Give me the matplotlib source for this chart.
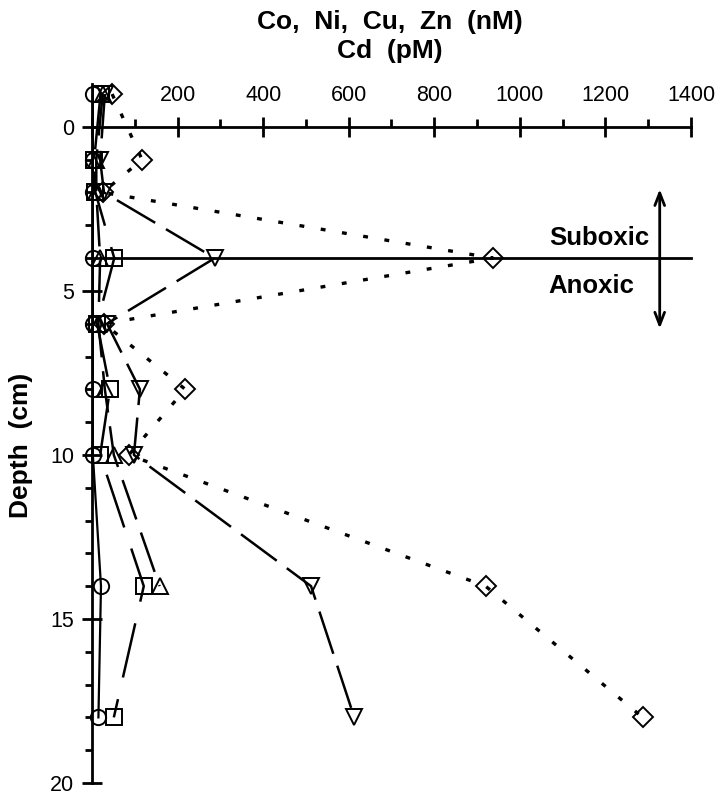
import numpy as np
import matplotlib
matplotlib.use("Agg")
import matplotlib.pyplot as plt

plt.rcParams['font.family'] = ['Liberation Sans', 'DejaVu Sans']
plt.rcParams['lines.scale_dashes'] = False

# ---- data ----
depth = [-1, 1, 2, 4, 6, 8, 10, 14, 18]
circle_vals   = [2, 2, 2, 2, 2, 2, 2, 21, 15]
square_vals   = [20, 5, 8, 52, 12, 42, 19, 121, 51]
tri_up_vals   = [25, 10, 10, 19, 15, 30, 51, 158, np.nan]
tri_down_vals = [30, 19, 28, 287, 35, 112, 98, 512, 613]
diamond_vals  = [47, 117, 25, 937, 28, 218, 86, 920, 1287]

x_ticks = [0, 200, 400, 600, 800, 1000, 1200, 1400]
x_tick_labels = ['', '200', '400', '600', '800', '1000', '1200', '1400']
y_ticks = [0, 5, 10, 15, 20]
y_tick_labels = ['0', '5', '10', '15', '20']
boundary_depth = 4

fig = plt.figure(figsize=(7.16, 8.02), dpi=100)
ax = fig.add_axes([0.1285, 0.0237, 0.965 - 0.1285, 0.895 - 0.0237])

ms = 11
mew = 1.4
common = dict(mfc='none', mec='black', color='black', mew=mew, clip_on=False)

ax.plot(circle_vals, depth, marker='o', ms=ms, lw=1.6, ls='-', **common)
ax.plot(square_vals, depth, marker='s', ms=ms, lw=1.8, ls=(0, (40, 16)), **common)
ax.plot(tri_up_vals, depth, marker='^', ms=ms, lw=1.8, ls=(0, (30, 10)), **common)
ax.plot(tri_down_vals, depth, marker='v', ms=ms, lw=1.8, ls=(0, (32, 9)), **common)
ax.plot(diamond_vals, depth, marker='D', ms=10, lw=2.4, ls=(0, (3.5, 12)), **common)

# suboxic / anoxic boundary
ax.plot([0, 1400], [boundary_depth, boundary_depth], color='black', lw=2, clip_on=False)
ax.annotate('', xy=(1327, 6.15), xytext=(1327, 1.9),
            arrowprops=dict(arrowstyle='<->,head_length=0.9,head_width=0.35',
                            color='black', lw=2, shrinkA=0, shrinkB=0))
ax.text(1185, 3.38, 'Suboxic', ha='center', va='center', fontsize=18.5, fontweight='bold')
ax.text(1168, 4.85, 'Anoxic', ha='center', va='center', fontsize=18.5, fontweight='bold')

ax.set_xlim(0, 1400)
ax.set_ylim(20, -1.3)

for s in ['right', 'bottom']:
    ax.spines[s].set_visible(False)
ax.spines['top'].set_position(('data', 0))
ax.spines['left'].set_position(('data', 0))
ax.spines['top'].set_linewidth(2)
ax.spines['left'].set_linewidth(2)

ax.xaxis.set_ticks_position('top')
ax.xaxis.set_label_position('top')
ax.set_xticks(x_ticks)
ax.set_xticklabels(x_tick_labels)
ax.set_xticks(np.arange(100, 1400, 200), minor=True)
ax.set_yticks(y_ticks)
ax.set_yticklabels(y_tick_labels)
ax.set_yticks([d for d in range(1, 20) if d % 5 != 0], minor=True)

ax.tick_params(axis='x', which='major', direction='inout', length=14, width=2,
               labelsize=15.5, pad=8)
ax.tick_params(axis='x', which='minor', direction='out', length=6, width=2)
ax.tick_params(axis='y', which='major', direction='inout', length=14, width=2,
               labelsize=15.5, pad=6)
ax.tick_params(axis='y', which='minor', direction='out', length=5, width=2)

fig.text(0.545, 0.972, 'Co,  Ni,  Cu,  Zn  (nM)', ha='center', va='center',
         fontsize=19, fontweight='bold')
fig.text(0.545, 0.937, 'Cd  (pM)', ha='center', va='center',
         fontsize=19, fontweight='bold')
fig.text(0.03, 0.445, 'Depth  (cm)', ha='center', va='center', rotation=90,
         fontsize=19, fontweight='bold')

fig.savefig('out.png', dpi=100)
